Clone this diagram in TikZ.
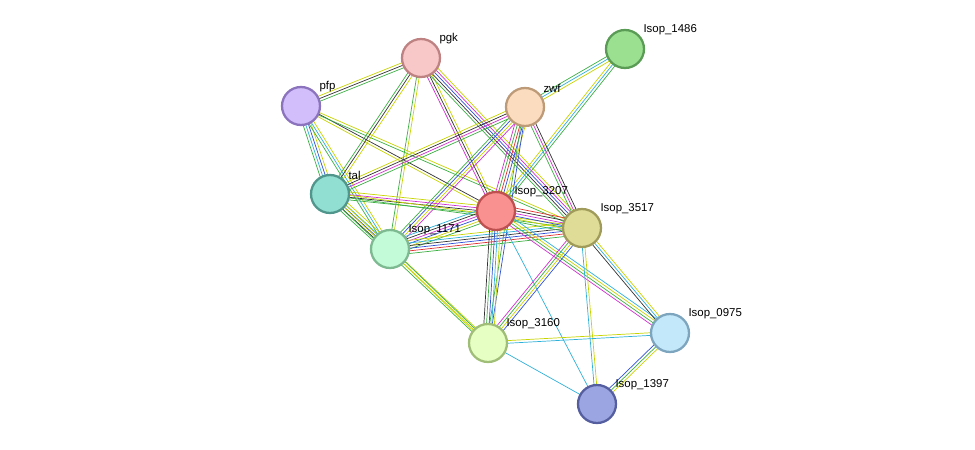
\documentclass[tikz,border=0pt]{standalone}
\usepackage{fontspec}
\setmainfont{Liberation Sans}
\usetikzlibrary{calc,backgrounds}
\definecolor{eg}{HTML}{3CB043}
\definecolor{ey}{HTML}{C8D400}
\definecolor{ec}{HTML}{2FB0D8}
\definecolor{eb}{HTML}{3050D8}
\definecolor{em}{HTML}{D030D0}
\definecolor{ek}{HTML}{333333}
\definecolor{er}{HTML}{E03030}
% parallel evidence lines between two nodes
\newcommand\stredge[4]{%
  \foreach \c [count=\i] in {#4}{%
    \pgfmathsetmacro\off{(\i-(#3+1)/2)*1.5}
    \draw[\c] ($(#1)!\off pt!90:(#2)$) -- ($(#2)!\off pt!-90:(#1)$);
  }}
\begin{document}
\begin{tikzpicture}[x=0.02cm,y=-0.02cm,line width=0.6pt]
\tikzset{prot/.style={circle,draw,line width=1.3pt,minimum size=0.76cm,inner sep=0pt},
	lbl/.style={anchor=west,inner sep=0pt,font=\fontsize{6.5}{7}\selectfont}}
\useasboundingbox (0,0) rectangle (975,450);
% proteins
\node[prot,fill={rgb,255:red,248;green,200;blue,200},draw={rgb,255:red,190;green,130;blue,130}] (pgk) at (421,58) {};
\node[prot,fill={rgb,255:red,155;green,223;blue,145},draw={rgb,255:red,90;green,155;blue,85}] (i1486) at (625,49) {};
\node[prot,fill={rgb,255:red,210;green,190;blue,250},draw={rgb,255:red,140;green,115;blue,190}] (pfp) at (301,106) {};
\node[prot,fill={rgb,255:red,252;green,220;blue,190},draw={rgb,255:red,190;green,155;blue,120}] (zwf) at (525,107) {};
\node[prot,fill={rgb,255:red,145;green,222;blue,210},draw={rgb,255:red,80;green,150;blue,140}] (tal) at (330,194) {};
\node[prot,fill={rgb,255:red,250;green,145;blue,145},draw={rgb,255:red,190;green,80;blue,80}] (i3207) at (496,211) {};
\node[prot,fill={rgb,255:red,222;green,220;blue,150},draw={rgb,255:red,160;green,155;blue,90}] (i3517) at (582,228) {};
\node[prot,fill={rgb,255:red,195;green,250;blue,215},draw={rgb,255:red,125;green,185;blue,145}] (i1171) at (390,249) {};
\node[prot,fill={rgb,255:red,230;green,255;blue,195},draw={rgb,255:red,160;green,190;blue,120}] (i3160) at (488,343) {};
\node[prot,fill={rgb,255:red,195;green,232;blue,250},draw={rgb,255:red,125;green,165;blue,190}] (i0975) at (670,333) {};
\node[prot,fill={rgb,255:red,155;green,165;blue,225},draw={rgb,255:red,85;green,95;blue,160}] (i1397) at (597,404) {};
% labels
\node[lbl] (lpgk) at (439,39) {pgk};
\node[lbl] (l1486) at (643,30) {Isop\_1486};
\node[lbl] (lpfp) at (319,87) {pfp};
\node[lbl] (lzwf) at (543,88) {zwf};
\node[lbl] (ltal) at (348,175) {tal};
\node[lbl] (l3207) at (514,192) {Isop\_3207};
\node[lbl] (l3517) at (600,209) {Isop\_3517};
\node[lbl] (l1171) at (408,230) {Isop\_1171};
\node[lbl] (l3160) at (506,324) {Isop\_3160};
\node[lbl] (l0975) at (688,314) {Isop\_0975};
\node[lbl] (l1397) at (615,385) {Isop\_1397};
% edges
\begin{scope}[on background layer]
\stredge{pfp}{pgk}{3}{eg,ek,ey}
\stredge{pfp}{tal}{4}{eg,ec,eb,ey}
\stredge{pfp}{i1171}{3}{eg,ec,ey}
\stredge{pfp}{i3207}{2}{ey,ek}
\stredge{pfp}{i3517}{2}{eg,ey}
\stredge{pgk}{i3207}{3}{em,ek,ey}
\stredge{pgk}{i3517}{5}{eg,ek,eb,em,ey}
\stredge{pgk}{i1171}{2}{eg,ey}
\stredge{pgk}{tal}{3}{eg,ek,ey}
\stredge{zwf}{i1486}{3}{ey,ec,eg}
\stredge{i1486}{i3207}{3}{ey,ec,eg}
\stredge{zwf}{tal}{4}{ey,ek,em,eg}
\stredge{zwf}{i1171}{4}{eg,eb,ey,em}
\stredge{zwf}{i3207}{5}{em,eg,er,eb,ey}
\stredge{zwf}{i3517}{3}{eg,em,ek}
\stredge{zwf}{i3160}{2}{eg,eb}
\stredge{tal}{i3207}{4}{eg,ek,em,ey}
\stredge{tal}{i1171}{5}{eg,ek,eb,ec,ey}
\stredge{tal}{i3517}{2}{eg,ey}
\stredge{tal}{i3160}{3}{eg,ey,ey}
\stredge{i1171}{i3207}{6}{eg,ey,eb,em,ek,ec}
\stredge{i1171}{i3517}{6}{eg,er,eb,ek,ec,ey}
\stredge{i1171}{i3160}{2}{ey,eg}
\stredge{i3207}{i3517}{6}{eg,ey,eb,em,ek,er}
\stredge{i3207}{i3160}{5}{ek,eg,eb,ec,ey}
\stredge{i3207}{i0975}{4}{em,eg,ey,ec}
\stredge{i3207}{i1397}{1}{ec}
\stredge{i3517}{i3160}{4}{em,eg,ey,eb}
\stredge{i3517}{i0975}{3}{ek,ec,ey}
\stredge{i3517}{i1397}{2}{ec,ey}
\stredge{i3160}{i0975}{2}{ec,ey}
\stredge{i3160}{i1397}{1}{ec}
\stredge{i0975}{i1397}{3}{eb,eg,ey}
\end{scope}
\end{tikzpicture}
\end{document}
